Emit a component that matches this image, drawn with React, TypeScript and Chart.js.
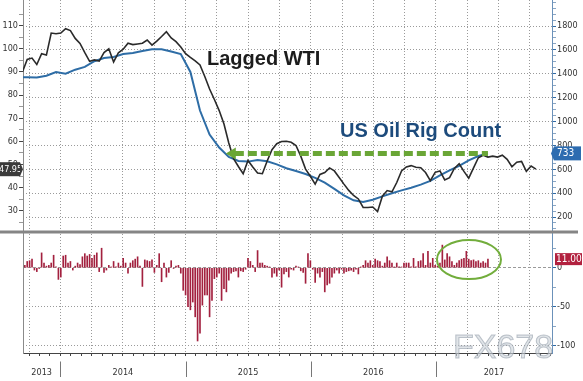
import React, { useEffect, useRef } from "react";
import { Chart, registerables } from "chart.js";

Chart.register(...registerables);

// ---------- data ----------
const YEAR_LABELS = ["2013", "2014", "2015", "2016", "2017"];
const X_MIN = 2013.702;
const X_MAX = 2017.927;
const WEEK = 7 / 365.25;

// weekly rig count change starts here (decimal year)
const CHANGE_START = 2013.7165;
// lagged WTI sampled every 2 weeks
const WTI_START = CHANGE_START - WEEK;
const WTI_STEP = 2 * WEEK;
// rig count sampled every 4 weeks
const RIG_START = CHANGE_START - 3 * WEEK;
const RIG_STEP = 4 * WEEK;

const WTI_LAGGED = [
  90.0, 95.4, 96.0, 93.2, 97.9, 97.3, 106.8, 106.5, 106.8, 108.7,
  107.9, 104.5, 102.3, 98.3, 94.6, 95.2, 94.7, 98.4, 100.0, 94.3,
  98.3, 99.8, 102.4, 101.8, 102.1, 102.4, 103.8, 101.6, 103.3, 105.3,
  107.4, 104.7, 103.1, 100.8, 97.9, 96.3, 94.8, 93.0, 88.0, 82.6,
  78.1, 73.3, 67.5, 59.3, 52.5, 49.1, 46.0, 51.7, 48.9, 46.3,
  46.0, 51.5, 56.4, 59.0, 59.9, 60.0, 59.6, 58.2, 53.6, 48.0,
  44.9, 41.5, 45.7, 46.5, 48.5, 47.2, 44.4, 41.5, 38.8, 36.6,
  35.1, 31.4, 31.4, 31.6, 29.6, 36.3, 38.7, 38.2, 42.2, 47.2,
  48.9, 49.5, 48.8, 48.6, 46.5, 43.0, 46.6, 47.2, 43.3, 44.3,
  48.3, 50.3, 47.0, 44.1, 48.5, 52.9, 54.0, 53.2, 53.6, 53.2,
  54.0, 52.2, 49.0, 51.0, 51.3, 47.0, 49.3, 47.95,
];

const RIG_COUNT = [
  1370, 1370, 1369, 1384, 1415, 1400, 1434, 1457, 1505, 1532,
  1541, 1565, 1574, 1591, 1605, 1605, 1586, 1565, 1415, 1092,
  891, 782, 703, 669, 664, 677, 667, 641, 609, 585,
  560, 528, 488, 435, 381, 340, 326, 345, 373, 399,
  423, 445, 471, 502, 548, 590, 629, 674, 711, 733,
];

const RIG_WEEKLY_CHANGE = [
  3, 8, 9, 11, -3, -5, -1, 19, 6, 2,
  3, 6, 16, 1, -15, -12, 15, 16, 6, 8,
  -3, 2, 6, 4, 14, 18, 15, 17, 12, 16,
  19, -5, 25, -6, -3, 3, 1, 8, 1, 6,
  2, 12, 6, -7, 6, 9, 11, 14, 2, -24,
  10, 9, 8, 10, -6, 3, 18, -18, 6, -12,
  -6, 9, -1, 2, 3, -7, -29, -35, -50, -54,
  -44, -63, -94, -84, -48, -35, -35, -63, -42, -14,
  -12, -7, -42, -27, -31, -16, -7, -5, -4, -12,
  -4, -5, -2, 12, 8, 3, -5, 22, 6, 6,
  3, 2, 1, -12, -7, -11, -3, -25, -8, -5,
  -12, -2, -3, 2, 1, -4, -6, -20, 18, 9,
  -2, -19, -7, -12, -5, -31, -22, -20, -12, -7,
  -3, -7, -2, -7, -5, -4, -3, -5, -2, -8,
  1, 3, 9, 6, 9, 3, 11, 9, 8, 2,
  6, 14, 9, 6, 1, 6, 1, 1, 6, 6,
  6, 1, 12, 1, 8, 9, 18, 3, 21, 6,
  12, 3, 2, 6, 29, 10, 18, 14, 8, 3,
  6, 9, 11, 12, 21, 11, 9, 10, 8, 9,
  6, 8, 6, 11,
];

const WTI_TICKS = [30, 40, 50, 60, 70, 80, 90, 100, 110];
const RIG_TICKS = [200, 400, 600, 800, 1000, 1200, 1400, 1600, 1800];
const CHANGE_TICKS = [0, -50, -100];

const WTI_RANGE = [20.8, 121.1];
const RIG_RANGE = [74.4, 2017.8];
const CHANGE_RANGE = [-109.4, 45.8];

const ARROW_START = 2015.33;

// ---------- styles ----------
const AXIS_FONT = {
  family: "'Liberation Sans Narrow', 'DejaVu Sans Condensed', 'Arial Narrow', sans-serif",
  size: 9,
};
const GRID = "#9a9a9a";
const CLEAR = "rgba(0,0,0,0)";

export default function App() {
  const ref = useRef<HTMLCanvasElement | null>(null);

  useEffect(() => {
    document.body.style.margin = "0";
    const canvas = ref.current;
    if (!canvas) return;

    const wtiData = WTI_LAGGED.map((y, i) => ({ x: WTI_START + i * WTI_STEP, y }));
    const rigData = RIG_COUNT.map((y, i) => ({ x: RIG_START + i * RIG_STEP, y }));
    const chgData = RIG_WEEKLY_CHANGE.map((y, i) => ({ x: CHANGE_START + i * WEEK, y }));

    // x ticks: monthly marks, quarterly grid, year labels
    const xTicks: any[] = [];
    for (let yr = 2013; yr <= 2017; yr++) {
      for (let m = 0; m < 12; m++) {
        const t = yr + m / 12;
        if (t >= X_MIN && t <= X_MAX) xTicks.push({ value: t, kind: m % 3 === 0 ? "q" : "m" });
      }
    }
    YEAR_LABELS.forEach((lbl) => {
      const y = Number(lbl);
      const a = Math.max(y, X_MIN);
      const b = Math.min(y + 1, X_MAX);
      xTicks.push({ value: (a + b) / 2, kind: "label", text: lbl });
    });
    xTicks.sort((a, b) => a.value - b.value);

    const minorTicks = (lo: number, hi: number, step: number) => {
      const out: any[] = [];
      for (let v = lo; v <= hi + 1e-9; v += step) out.push({ value: v });
      return out;
    };

    const zeroPad = (s: any) => {
      s.paddingTop = 0;
      s.paddingBottom = 0;
      s.paddingLeft = 0;
      s.paddingRight = 0;
    };

    const decor = {
      id: "decor",
      afterDatasetsDraw(chart: any) {
        const { ctx, scales } = chart;
        const x = scales.x, yR = scales.yR, yB = scales.yB;
        ctx.save();
        // panel separator
        ctx.strokeStyle = "#858585";
        ctx.lineWidth = 3;
        ctx.beginPath();
        ctx.moveTo(0, yR.bottom);
        ctx.lineTo(578, yR.bottom);
        ctx.stroke();

        // green dashed arrow at latest rig count level
        const lastRig = RIG_COUNT[RIG_COUNT.length - 1];
        const ay = yR.getPixelForValue(lastRig);
        const ax1 = x.getPixelForValue(ARROW_START);
        const ax2 = x.getPixelForValue(rigData[rigData.length - 1].x);
        ctx.strokeStyle = "#6aa636";
        ctx.fillStyle = "#6aa636";
        ctx.lineWidth = 5;
        ctx.setLineDash([9, 4]);
        ctx.beginPath();
        ctx.moveTo(ax1 + 8, ay);
        ctx.lineTo(ax2, ay);
        ctx.stroke();
        ctx.setLineDash([]);
        ctx.beginPath();
        ctx.moveTo(ax1 - 1, ay);
        ctx.lineTo(ax1 + 9, ay - 6);
        ctx.lineTo(ax1 + 9, ay + 6);
        ctx.closePath();
        ctx.fill();

        // annotations
        ctx.font = "bold 20px 'Liberation Sans', Arial, sans-serif";
        ctx.textAlign = "left";
        ctx.textBaseline = "alphabetic";
        ctx.fillStyle = "#1c1c1c";
        ctx.fillText("Lagged WTI", 207, 64.5);
        ctx.fillStyle = "#1d4b7c";
        ctx.fillText("US Oil Rig Count", 340, 137);

        // green ellipse around recent weekly gains
        ctx.strokeStyle = "#72ad3c";
        ctx.lineWidth = 2;
        ctx.beginPath();
        ctx.ellipse(x.getPixelForValue(2017.264), yB.getPixelForValue(10.5), 32, 19.5, 0, 0, Math.PI * 2);
        ctx.stroke();
        ctx.restore();
      },
      afterDraw(chart: any) {
        const { ctx, scales } = chart;
        const x = scales.x, yL = scales.yL, yR = scales.yR, yB = scales.yB;
        ctx.save();
        // year separators below the axis
        ctx.strokeStyle = "#777";
        ctx.lineWidth = 1;
        YEAR_LABELS.forEach((lbl) => {
          const v = Number(lbl);
          if (v <= X_MIN) return;
          const px = Math.round(x.getPixelForValue(v)) + 0.5;
          ctx.beginPath();
          ctx.moveTo(px, 361.5);
          ctx.lineTo(px, 377);
          ctx.stroke();
        });

        // value boxes
        const box = (text: string, x0: number, x1: number, yc: number, h: number, color: string, tx: number, size: number) => {
          ctx.fillStyle = color;
          ctx.fillRect(x0, yc - h / 2, x1 - x0, h);
          ctx.fillStyle = "#fff";
          ctx.font = `${size}px 'Liberation Sans Narrow', 'DejaVu Sans Condensed', sans-serif`;
          ctx.textAlign = "left";
          ctx.textBaseline = "middle";
          ctx.fillText(text, tx, yc + 0.5);
        };
        const lastWti = WTI_LAGGED[WTI_LAGGED.length - 1];
        const yw = yL.getPixelForValue(lastWti);
        box(lastWti.toFixed(2), -2, 20, yw, 14, "#3b3b3b", -1, 9);
        ctx.fillStyle = "#3b3b3b";
        ctx.beginPath();
        ctx.moveTo(20, yw - 7);
        ctx.lineTo(23, yw);
        ctx.lineTo(20, yw + 7);
        ctx.fill();

        const lastRig = RIG_COUNT[RIG_COUNT.length - 1];
        const yr = yR.getPixelForValue(lastRig);
        box(String(lastRig), 554, 581, yr, 14, "#2d6cb0", 557, 10);
        ctx.fillStyle = "#2d6cb0";
        ctx.beginPath();
        ctx.moveTo(554, yr - 7);
        ctx.lineTo(551, yr);
        ctx.lineTo(554, yr + 7);
        ctx.fill();

        const lastChg = RIG_WEEKLY_CHANGE[RIG_WEEKLY_CHANGE.length - 1];
        const yc = yB.getPixelForValue(lastChg);
        box(lastChg.toFixed(2), 555, 582, yc, 12, "#b2213f", 556, 10);

        // watermark
        ctx.font = "34px 'Liberation Sans', Arial, sans-serif";
        ctx.textAlign = "left";
        ctx.textBaseline = "alphabetic";
        ctx.fillStyle = "rgba(205,211,219,0.6)";
        ctx.strokeStyle = "rgba(150,160,172,0.6)";
        ctx.lineWidth = 1;
        ctx.fillText("FX678", 453, 358);
        ctx.strokeText("FX678", 453, 358);
        ctx.restore();
      },
    };

    const chart = new Chart(canvas, {
      type: "line",
      data: {
        datasets: [
          {
            type: "line",
            label: "Lagged WTI",
            data: wtiData,
            xAxisID: "x",
            yAxisID: "yL",
            borderColor: "#2a2a2a",
            borderWidth: 1.6,
            pointRadius: 0,
            tension: 0,
            order: 1,
          },
          {
            type: "line",
            label: "US Oil Rig Count",
            data: rigData,
            xAxisID: "x",
            yAxisID: "yR",
            borderColor: "#2e6da6",
            borderWidth: 2,
            pointRadius: 0,
            tension: 0,
            order: 2,
          },
          {
            type: "bar",
            label: "Weekly change",
            data: chgData,
            xAxisID: "x",
            yAxisID: "yB",
            backgroundColor: "#a3213f",
            borderWidth: 0,
            barThickness: 1,
            order: 3,
          } as any,
        ],
      },
      options: {
        responsive: false,
        devicePixelRatio: 1,
        animation: false,
        events: [],
        layout: { padding: 0 },
        plugins: { legend: { display: false }, tooltip: { enabled: false } },
        scales: {
          x: {
            type: "linear",
            position: "bottom",
            min: X_MIN,
            max: X_MAX,
            offset: false,
            afterBuildTicks: (s: any) => {
              s.ticks = xTicks.map((t) => ({ ...t }));
            },
            afterFit: (s: any) => {
              s.height = 28;
              zeroPad(s);
            },
            grid: {
              offset: false,
              drawOnChartArea: true,
              color: (c: any) => (c.tick && c.tick.kind === "q" ? GRID : CLEAR),
              tickColor: (c: any) => (c.tick && c.tick.kind === "label" ? CLEAR : "#444"),
              tickLength: 3,
            },
            border: { color: "#444", width: 1, dash: [1, 2] },
            ticks: {
              autoSkip: false,
              maxRotation: 0,
              minRotation: 0,
              padding: 11,
              color: "#333",
              font: AXIS_FONT,
              callback: (_v: any, i: number, ticks: any[]) => (ticks[i] && ticks[i].kind === "label" ? ticks[i].text : ""),
            },
          },
          yL: {
            type: "linear",
            position: "left",
            stack: "left",
            stackWeight: 232,
            weight: 2,
            min: WTI_RANGE[0],
            max: WTI_RANGE[1],
            afterBuildTicks: (s: any) => {
              s.ticks = minorTicks(25, 115, 5);
            },
            afterFit: (s: any) => {
              s.width = 23;
              zeroPad(s);
            },
            grid: {
              drawOnChartArea: false,
              tickLength: 4,
              tickColor: (c: any) => (c.tick && WTI_TICKS.includes(c.tick.value) ? "#444" : "#999"),
            },
            border: { color: "#8a8a8a", width: 1 },
            ticks: {
              autoSkip: false,
              padding: 1,
              color: "#333",
              font: AXIS_FONT,
              callback: (v: any) => (WTI_TICKS.includes(v) ? String(v) : ""),
            },
          },
          yLB: {
            type: "linear",
            position: "left",
            stack: "left",
            stackWeight: 121,
            weight: 1,
            min: 0,
            max: 1,
            afterFit: (s: any) => {
              s.width = 23;
              zeroPad(s);
            },
            grid: { display: false, drawTicks: false },
            border: { color: "#8a8a8a", width: 1 },
            ticks: { display: false },
          },
          yR: {
            type: "linear",
            position: "right",
            stack: "right",
            stackWeight: 232,
            weight: 1,
            min: RIG_RANGE[0],
            max: RIG_RANGE[1],
            afterBuildTicks: (s: any) => {
              s.ticks = minorTicks(100, 2000, 50);
            },
            afterFit: (s: any) => {
              s.width = 31;
              zeroPad(s);
            },
            grid: {
              drawOnChartArea: true,
              color: (c: any) => (c.tick && RIG_TICKS.includes(c.tick.value) ? GRID : CLEAR),
              tickColor: (c: any) => (c.tick && RIG_TICKS.includes(c.tick.value) ? "#2f6aa5" : "#8aa6c4"),
              tickLength: 4,
            },
            border: { color: "#6b91b9", width: 1, dash: [1, 2] },
            ticks: {
              autoSkip: false,
              padding: 1,
              color: "#333",
              font: AXIS_FONT,
              callback: (v: any) => (RIG_TICKS.includes(v) ? String(v) : ""),
            },
          },
          yB: {
            type: "linear",
            position: "right",
            stack: "right",
            stackWeight: 121,
            weight: 2,
            min: CHANGE_RANGE[0],
            max: CHANGE_RANGE[1],
            afterBuildTicks: (s: any) => {
              s.ticks = minorTicks(-100, 25, 25);
            },
            afterFit: (s: any) => {
              s.width = 31;
              zeroPad(s);
            },
            grid: {
              drawOnChartArea: true,
              color: (c: any) => (c.tick && CHANGE_TICKS.includes(c.tick.value) ? GRID : CLEAR),
              tickColor: (c: any) => (c.tick && CHANGE_TICKS.includes(c.tick.value) ? "#2f6aa5" : "#8aa6c4"),
              tickLength: 4,
            },
            border: {
              color: "#6b91b9",
              width: 1,
              dash: (c: any) => (c.tick && c.tick.value === 0 ? [3, 2] : [1, 2]),
            },
            ticks: {
              autoSkip: false,
              padding: 1,
              color: "#333",
              font: AXIS_FONT,
              callback: (v: any) => (CHANGE_TICKS.includes(v) ? String(v) : ""),
            },
          },
        } as any,
      },
      plugins: [decor],
    } as any);

    return () => chart.destroy();
  }, []);

  return (
    <div style={{ width: 583, height: 381, background: "#fff" }}>
      <canvas ref={ref} width={583} height={381} style={{ display: "block" }} />
    </div>
  );
}
